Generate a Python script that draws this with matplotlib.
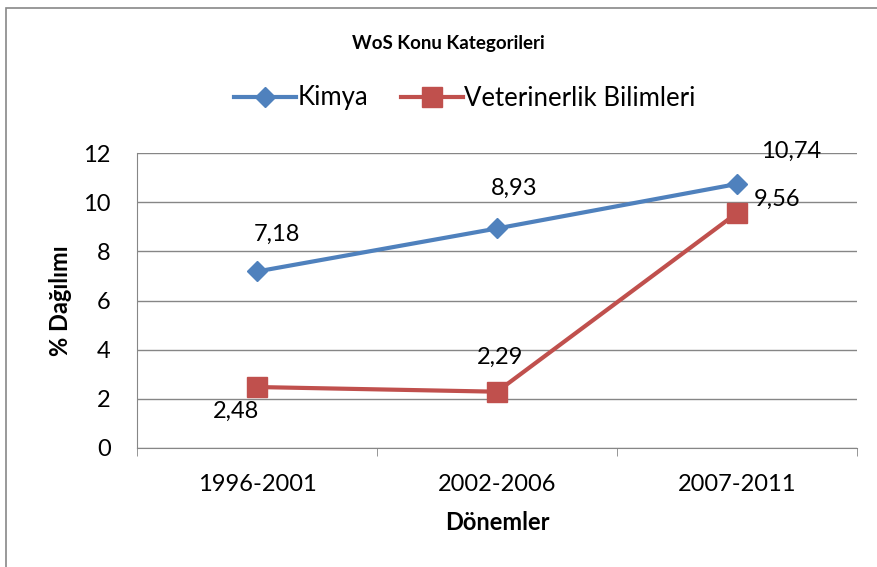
import matplotlib.pyplot as plt
from matplotlib.patches import Rectangle

# data
periods = ["1996-2001", "2002-2006", "2007-2011"]
kimya = [7.18, 8.93, 10.74]
veteriner = [2.48, 2.29, 9.56]
kimya_lbl = ["7,18", "8,93", "10,74"]
veteriner_lbl = ["2,48", "2,29", "9,56"]

plt.rcParams['font.family'] = ['Lato', 'DejaVu Sans']

fig = plt.figure(figsize=(8.78, 5.67), dpi=100)
ax = fig.add_axes([137/878, 1-448/567, 720/878, 295/567])

x = list(range(len(periods)))
ax.plot(x, kimya, color='#4F81BD', lw=3, marker='D', ms=10, label='Kimya', zorder=3)
ax.plot(x, veteriner, color='#C0504D', lw=3, marker='s', ms=14, label='Veterinerlik Bilimleri', zorder=3)

# label offsets in pixels (dx, dy)
k_off = [(20, 37), (17, 40), (54, 33)]
v_off = [(-21, -24), (3, 34), (40, 14)]
for i in x:
    ax.annotate(kimya_lbl[i], (i, kimya[i]), xytext=k_off[i], textcoords='offset pixels',
                ha='center', va='center', fontsize=17)
    ax.annotate(veteriner_lbl[i], (i, veteriner[i]), xytext=v_off[i], textcoords='offset pixels',
                ha='center', va='center', fontsize=17)

ax.set_xlim(-0.5, 2.5)
ax.set_ylim(0, 12)
ax.set_yticks(range(0, 13, 2))
ax.set_xticks(x)
ax.set_xticklabels(periods)
ax.set_xticks([-0.5, 0.5, 1.5, 2.5], minor=True)
ax.tick_params(axis='x', which='major', length=0, pad=19, labelsize=17)
ax.tick_params(axis='x', which='minor', length=6, color='#868686')
ax.tick_params(axis='y', length=0, pad=19, labelsize=17)
ax.yaxis.grid(True, color='#868686', lw=1)
ax.set_axisbelow(True)
for s in ['top', 'right']:
    ax.spines[s].set_visible(False)
for s in ['left', 'bottom']:
    ax.spines[s].set_color('#868686')

ax.set_ylabel('% Dağılımı', fontsize=17, fontweight='bold', labelpad=8)
ax.set_xlabel('Dönemler', fontsize=17, fontweight='bold', labelpad=11)

fig.text(448/878, 1-44/567, 'WoS Konu Kategorileri', ha='center', va='center',
         fontsize=13.5, fontweight='bold')
fig.legend(loc='center', bbox_to_anchor=(465/878, 1-98/567), ncol=2, frameon=False,
           fontsize=18.5, handlelength=2.4, handletextpad=0.05, columnspacing=1.3)

# outer chart border (right and bottom fall outside the image)
fig.patches.append(Rectangle((6/878, -0.1), 1.1, 1-8/567+0.1, transform=fig.transFigure,
                             fill=False, edgecolor='#888888', lw=1.2))

fig.savefig('out.png', dpi=100)
